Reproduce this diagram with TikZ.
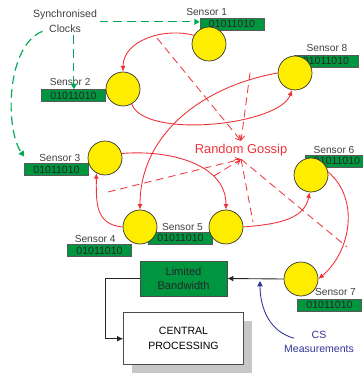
\documentclass[tikz,border=0pt]{standalone}
\usepackage{fontspec}
\setmainfont{Liberation Sans}
\usetikzlibrary{positioning, arrows.meta, backgrounds, shadows}

\definecolor{sensoryellow}{RGB}{255,237,0}
\definecolor{datagreen}{RGB}{0,150,64}
\definecolor{gossipred}{RGB}{238,50,56}
\definecolor{clockgreen}{RGB}{0,170,85}
\definecolor{csblue}{RGB}{50,52,150}
\definecolor{labelgray}{RGB}{64,64,64}

\tikzset{
  sensor/.style={circle, draw=black!80, fill=sensoryellow, minimum size=1.02cm, inner sep=0pt, line width=0.6pt},
  databox/.style={rectangle, draw=black!65, line width=0.6pt, fill=datagreen, text=black!85, minimum width=1.92cm, minimum height=0.36cm, inner sep=0pt, font=\fontsize{9}{10}\selectfont},
  sensorname/.style={text=labelgray, inner sep=0pt, font=\fontsize{8.7}{10}\selectfont},
  link/.style={draw=gossipred, line width=0.75pt, -{Latex[length=1.7mm, width=1.5mm]}},
  rumour/.style={draw=gossipred, line width=0.7pt, dash pattern=on 2.3mm off 1.4mm},
  clockline/.style={color=clockgreen, line width=1pt, dash pattern=on 2.6mm off 1.5mm, -{Triangle[length=1.6mm, width=1.8mm]}},
  flow/.style={draw=black!85, line width=0.75pt, -{Latex[length=1.8mm, width=1.7mm]}}
}

\begin{document}
\begin{tikzpicture}[x=0.03cm, y=-0.03cm]
  \useasboundingbox (0,0) rectangle (362,374);
  % Sensors
  \node[sensor] (s1) at (209,44) {};
  \node[sensor] (s2) at (123,89) {};
  \node[sensor] (s3) at (105,158) {};
  \node[sensor] (s4) at (140,227) {};
  \node[sensor] (s5) at (226,227) {};
  \node[sensor] (s6) at (311,175) {};
  \node[sensor] (s7) at (301,279) {};
  \node[sensor] (s8) at (295,73) {};

  % Data registers, behind the sensors
  \begin{scope}[on background layer]
    \node[databox] (b1) at (232,24) {01011010};
    \node[databox] (b2) at (73.5,95.5) {01011010};
    \node[databox] (b3) at (56.5,169.5) {01011010};
    \node[databox] (b4) at (99.5,250.5) {01011010};
    \node[databox] (b5) at (180.5,238) {01011010};
    \node[databox] (b6) at (337,161) {01011010};
    \node[databox] (b7) at (329.5,305) {01011010};
    \node[databox] (b8) at (326,61) {01011010};
  \end{scope}

  % Names
  \node[sensorname, above=1.5pt of b1, xshift=-7.6mm] (n1) {Sensor 1};
  \node[sensorname, above=2.5pt of b2, xshift=-1mm] (n2) {Sensor 2};
  \node[sensorname, above=1pt of b3, xshift=1mm] (n3) {Sensor 3};
  \node[sensorname, above=1pt of b4, xshift=-1.3mm] (n4) {Sensor 4};
  \node[sensorname, above=1pt of b5, xshift=0.6mm] (n5) {Sensor 5};
  \node[sensorname, above=1pt of b6, xshift=-0.9mm] (n6) {Sensor 6};
  \node[sensorname, above=2.5pt of b7, xshift=1.8mm] (n7) {Sensor 7};
  \node[sensorname, above=2.5pt of b8, xshift=0.3mm] (n8) {Sensor 8};

  \node[text=labelgray, align=center, inner sep=2pt, font=\fontsize{9}{12.5}\selectfont] (clocks) at (65,21.5) {Synchronised\\Clocks};
  \node[text=gossipred, inner sep=2.5pt, font=\fontsize{11}{12}\selectfont] (gossip) at (241,150) {Random Gossip};

  % Processing chain
  \node[rectangle, draw=black!70, line width=0.6pt, fill=datagreen, text=black!85, align=center, minimum width=2.61cm, minimum height=1.05cm, font=\fontsize{9.5}{12}\selectfont] (lb) at (183.5,278.5) {Limited\\Bandwidth};
  \node[rectangle, draw=black!70, line width=0.6pt, fill=white, align=center, minimum width=3.6cm, minimum height=1.56cm, font=\fontsize{9}{12.8}\selectfont,
        drop shadow={shadow xshift=0.24cm, shadow yshift=-0.24cm, fill=black!22, opacity=1}, below=0.48cm of lb] (cp) {CENTRAL\\PROCESSING};
  \node[text=csblue, align=center, inner sep=2pt, font=\fontsize{9}{12}\selectfont] (cs) at (319,341.5) {CS\\Measurements};
  \coordinate (tap) at (260,281);

  % Gossip exchanges
  \draw[link] (s1.150) to[out=165, in=90] (s2.north);
  \draw[link] (s2.-60) to[out=-70, in=-110, looseness=0.6] (s8.-100);
  \draw[link] (s8.west) to[out=190, in=90] (s4.north);
  \draw[link] (s3.15) to[out=5, in=90] (s5.north);
  \draw[link] (s4.west) to[out=175, in=-90, looseness=1.2] (s3.-120);
  \draw[link] (s5.east) to[out=5, in=-100] (s6.-95);
  \draw[link] (s6.10) to[out=-40, in=40] (s7.east);

  % Pointers to the label
  \coordinate (r1) at (157,38);
  \coordinate (r2) at (250,73);
  \coordinate (r3) at (108,192);
  \coordinate (r4) at (214,176);
  \coordinate (r5) at (253,222);
  \coordinate (r6) at (347,247);
  \foreach \r in {r1,r2}
    \draw[rumour, -{Straight Barb[length=1.4mm, width=1.8mm]}] (\r) -- (gossip.north);
  \foreach \r in {r3,r4}
    \draw[rumour, -{Straight Barb[length=1.4mm, width=1.8mm]}] (\r) -- (gossip.south);
  \foreach \r in {r5,r6}
    \draw[rumour] (gossip.south) -- (\r);

  % Clock sync
  \draw[clockline] ([yshift=-0.3pt]clocks.east) -- ([yshift=-0.3pt]clocks.east -| b1.west);
  \draw[clockline] ([xshift=0.3pt]b2.north |- clocks.south) -- ([xshift=0.3pt]b2.north);
  \draw[clockline] ([xshift=3.6mm, yshift=1.2mm]clocks.south west) .. controls +(-37,15) and +(-19,-27) .. ([yshift=2mm]b3.north west);

  % Data to the centre
  \draw[flow] (s7.west) -- (lb.east);
  \draw[flow] (lb.west) -- ++(-34,0) |- (cp.west);
  \draw[draw=csblue, line width=0.75pt, -{Triangle[length=1.6mm, width=1.6mm]}] ([xshift=3.7mm, yshift=-3mm]cs.north west) to[out=165, in=-90] (tap);
\end{tikzpicture}
\end{document}
